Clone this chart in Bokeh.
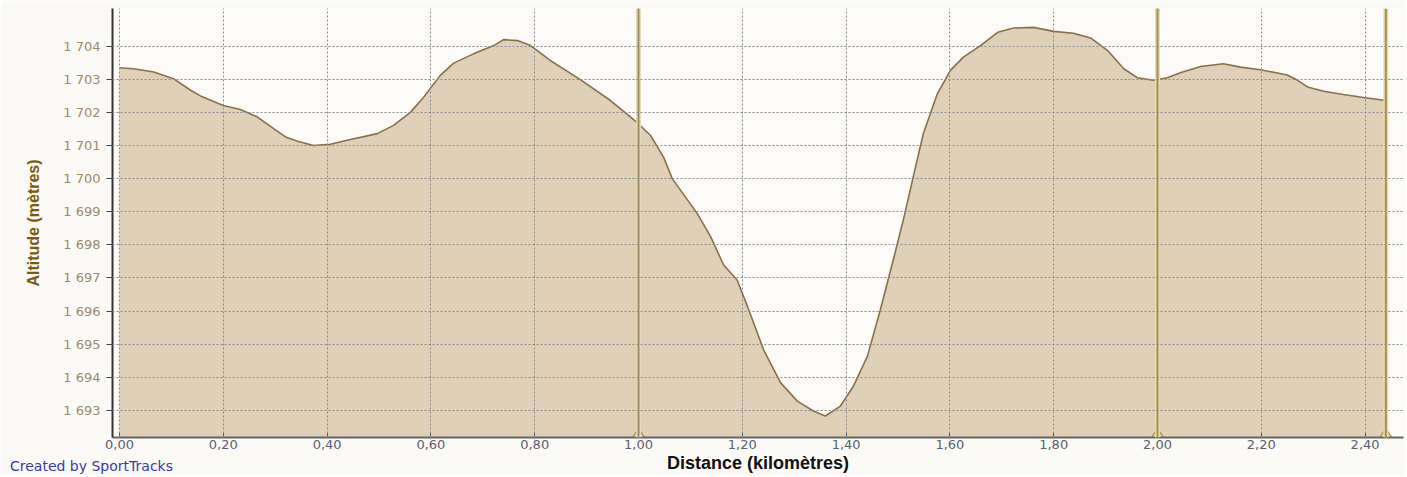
from bokeh.plotting import figure
from bokeh.models import FixedTicker, Span, ColumnDataSource, Range1d, Div
from bokeh.layouts import column
from bokeh.embed import file_html
from bokeh.resources import INLINE

distance_km = [0.0, 0.027, 0.066, 0.104, 0.137, 0.156, 0.2, 0.233, 0.266, 0.297, 0.32, 0.343,
               0.374, 0.406, 0.445, 0.497, 0.528, 0.561, 0.586, 0.618, 0.644, 0.682, 0.721, 0.740,
               0.767, 0.792, 0.830, 0.888, 0.946, 0.985, 1.0, 1.023, 1.048, 1.065, 1.113, 1.139,
               1.164, 1.19, 1.21, 1.241, 1.274, 1.306, 1.337, 1.36, 1.389, 1.414, 1.441, 1.466,
               1.491, 1.511, 1.53, 1.549, 1.576, 1.601, 1.626, 1.659, 1.692, 1.723, 1.761, 1.8,
               1.838, 1.871, 1.904, 1.935, 1.961, 1.992, 2.019, 2.044, 2.069, 2.083, 2.127, 2.16,
               2.198, 2.231, 2.25, 2.27, 2.289, 2.32, 2.358, 2.397, 2.44]
altitude_m = [1703.35, 1703.32, 1703.22, 1703.02, 1702.67, 1702.5, 1702.21, 1702.09, 1701.86,
              1701.51, 1701.26, 1701.13, 1701.0, 1701.04, 1701.18, 1701.36, 1701.61, 1702.01,
              1702.46, 1703.12, 1703.49, 1703.77, 1704.02, 1704.2, 1704.17, 1704.02, 1703.57,
              1702.99, 1702.36, 1701.86, 1701.65, 1701.31, 1700.66, 1700.0, 1698.95, 1698.25,
              1697.39, 1696.94, 1696.14, 1694.83, 1693.83, 1693.28, 1692.98, 1692.83, 1693.13,
              1693.73, 1694.63, 1696.04, 1697.55, 1698.8, 1700.1, 1701.37, 1702.57, 1703.27,
              1703.67, 1704.02, 1704.42, 1704.55, 1704.57, 1704.45, 1704.39, 1704.25, 1703.87,
              1703.32, 1703.05, 1702.97, 1703.05, 1703.2, 1703.32, 1703.39, 1703.47, 1703.37,
              1703.29, 1703.19, 1703.13, 1702.97, 1702.77, 1702.64, 1702.54, 1702.45, 1702.36]
lap_km = [1.0, 2.0, 2.44]
lap_labels = ["1", "2", "3"]
x_ticks = [0.0, 0.2, 0.4, 0.6, 0.8, 1.0, 1.2, 1.4, 1.6, 1.8, 2.0, 2.2, 2.4]
x_tick_labels = ["0,00", "0,20", "0,40", "0,60", "0,80", "1,00", "1,20", "1,40", "1,60",
                 "1,80", "2,00", "2,20", "2,40"]
y_ticks = [1693, 1694, 1695, 1696, 1697, 1698, 1699, 1700, 1701, 1702, 1703, 1704]
y_tick_labels = ["1 693", "1 694", "1 695", "1 696", "1 697", "1 698", "1 699", "1 700",
                 "1 701", "1 702", "1 703", "1 704"]
credit_text = "Created by SportTracks"

Y0, Y1 = 1692.18, 1705.14

p = figure(width=1405, height=475, output_backend="svg", toolbar_location=None,
           x_range=Range1d(-0.0135, 2.474), y_range=Range1d(Y0, Y1),
           min_border_left=112, min_border_right=2, min_border_top=8, min_border_bottom=38)
p.background_fill_color = "#fcfbf8"
p.border_fill_color = "#fbfaf7"
p.outline_line_color = None

src = ColumnDataSource(dict(x=distance_km, y=altitude_m))
p.varea(x="x", y1=Y0 - 1, y2="y", source=src, fill_color="#e0d0b8")
p.line(x="x", y="y", source=src, line_color="#8a7048", line_width=1.6)

for d in lap_km:
    p.add_layout(Span(location=d, dimension="height", line_color="#e6dcb8", line_width=5))
    p.add_layout(Span(location=d, dimension="height", line_color="#a8904a", line_width=2))

lap_src = ColumnDataSource(dict(x=lap_km, y=[Y0] * len(lap_km), t=lap_labels))
p.scatter(x="x", y="y", source=lap_src, marker="diamond", size=18,
          fill_color="#efe2a8", line_color="#a08040", line_width=1.2)
p.text(x="x", y="y", text="t", source=lap_src, text_font_size="7px", y_offset=-2,
       text_align="center", text_baseline="middle", text_color="#6a5020")

# axes
p.xaxis.ticker = FixedTicker(ticks=x_ticks)
p.xaxis.major_label_overrides = {t: l for t, l in zip(x_ticks, x_tick_labels)}
p.yaxis.ticker = FixedTicker(ticks=y_ticks)
p.yaxis.major_label_overrides = {t: l for t, l in zip(y_ticks, y_tick_labels)}

p.xaxis.axis_label = "Distance (kilomètres)"
p.xaxis.axis_label_text_font = "Liberation Sans"
p.xaxis.axis_label_text_font_style = "bold"
p.xaxis.axis_label_text_font_size = "18px"
p.xaxis.axis_label_text_color = "#111111"
p.xaxis.axis_label_standoff = 1
p.xaxis.major_label_text_font = "DejaVu Sans"
p.xaxis.major_label_text_font_size = "13px"
p.xaxis.major_label_text_color = "#5a6070"
p.xaxis.major_label_standoff = 2
p.xaxis.major_tick_in = 5
p.xaxis.major_tick_out = 0
p.xaxis.minor_tick_line_color = None
p.xaxis.axis_line_color = "#666666"
p.xaxis.axis_line_width = 2
p.xaxis.major_tick_line_color = "#444444"

p.yaxis.axis_label = "Altitude (mètres)"
p.yaxis.axis_label_text_font = "Liberation Sans"
p.yaxis.axis_label_text_font_style = "bold"
p.yaxis.axis_label_text_font_size = "16px"
p.yaxis.axis_label_text_color = "#7a5a10"
p.yaxis.axis_label_standoff = 18
p.yaxis.major_label_text_font = "DejaVu Sans"
p.yaxis.major_label_text_font_size = "13px"
p.yaxis.major_label_text_color = "#9a8a6a"
p.yaxis.major_label_standoff = 6
p.yaxis.major_tick_in = 0
p.yaxis.major_tick_out = 6
p.yaxis.minor_tick_line_color = None
p.yaxis.axis_line_color = "#333333"
p.yaxis.axis_line_width = 2
p.yaxis.major_tick_line_color = "#444444"

# grid
p.xgrid.ticker = FixedTicker(ticks=x_ticks)
p.ygrid.ticker = FixedTicker(ticks=y_ticks)
for g in (p.xgrid, p.ygrid):
    g.grid_line_color = "#8a8a8a"
    g.grid_line_dash = "2 2"
    g.grid_line_width = 1
    g.level = "overlay"

credit = Div(text=credit_text, width=260, height=16, margin=(-17, 0, 0, 10),
             styles={"color": "#3a3aa0", "font-family": "DejaVu Sans",
                     "font-size": "14px", "line-height": "16px"})

layout = column(p, credit, spacing=0)

open("out.html", "w").write(file_html(layout, INLINE))
